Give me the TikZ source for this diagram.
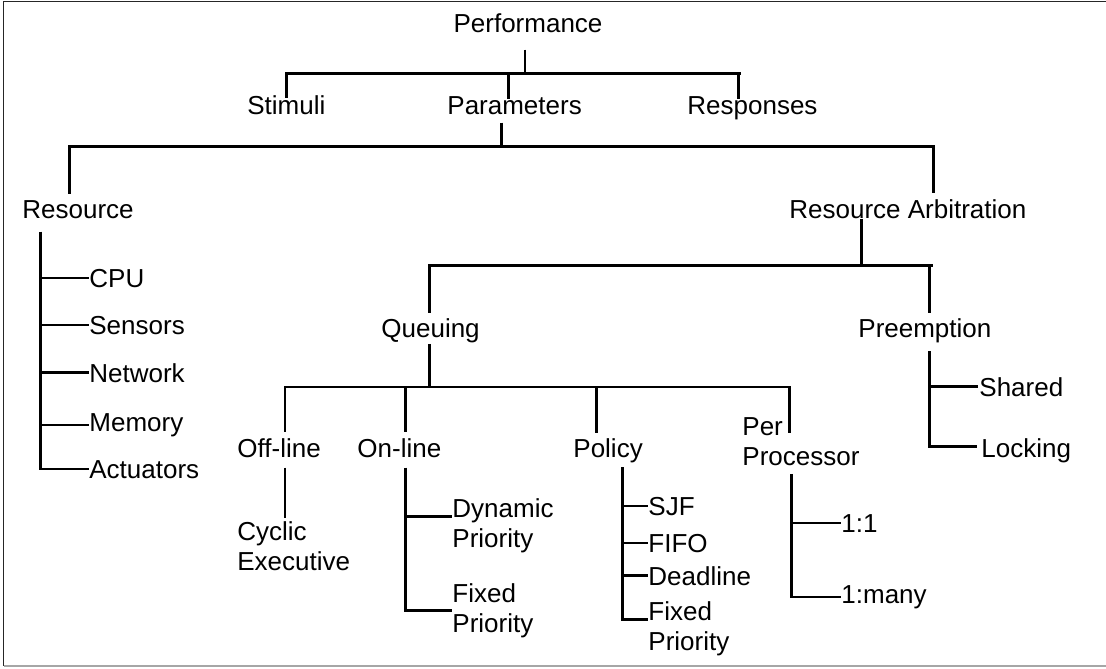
\documentclass[tikz,border=0pt]{standalone}
\usepackage{fontspec}
\setmainfont{Liberation Sans}
\begin{document}
\begin{tikzpicture}[
    x=0.5pt, y=-0.5pt,
    lbl/.style={inner sep=0pt, anchor=base west, font=\fontsize{13pt}{15pt}\selectfont},
    twoline/.style={lbl, anchor=north west, align=left},
    tree/.style={line width=1.25pt},
    frame/.style={line width=0.8pt, black!85}
  ]
    \useasboundingbox (0,0) rectangle (1106,668);
    \draw[frame] (1106,1.5) -- (3.5,1.5) -- (3.5,666);
    \draw[frame, black!35] (3.5,666) -- (1106,666);

    \node[lbl, anchor=base] (perf) at (528,33) {Performance};
    \node[lbl] (stim)  at (247,115) {Stimuli};
    \node[lbl] (param) at (447,115) {Parameters};
    \node[lbl] (resp)  at (687,115) {Responses};
    \node[lbl] (res)   at (22,218)  {Resource};
    \node[lbl] (arb)   at (789,218) {Resource Arbitration};

    \draw[tree] ([shift={(-3,16)}]perf.south) -- ++(0,24) coordinate (perfbus);
    \draw[tree] ([shift={(0,2)}]stim.north) |- (perfbus) -- ++(216,0);
    \draw[tree] ([shift={(-6,2)}]param.north) -- ++(0,-25);
    \draw[tree] ([shift={(-14,2)}]resp.north) -- ++(0,-25);
    \draw[tree] ([shift={(-13,7)}]param.south) -- ++(0,24) coordinate (parbus);
    \draw[tree] ([shift={(-8.6,-6)}]res.north) |- (parbus) -| ([shift={(25.5,-6)}]arb.north);

    % Resource
    \node[lbl] (cpu)  at (89,287) {CPU};
    \node[lbl] (sens) at (89,334) {Sensors};
    \node[lbl] (net)  at (89,382) {Network};
    \node[lbl] (mem)  at (89,431) {Memory};
    \node[lbl] (act)  at (89,478) {Actuators};
    \coordinate (resL) at ([shift={(-37.6,13)}]res.south);
    \draw[tree] (resL) |- (act.west);
    \foreach \n in {cpu,sens,net,mem}
      \draw[tree] (resL |- \n.west) -- (\n.west);

    % Resource Arbitration
    \node[lbl] (queue)   at (381,337) {Queuing};
    \node[lbl] (preempt) at (858,337) {Preemption};
    \draw[tree] ([shift={(-46.5,0)}]arb.south) -- ++(0,47) coordinate (arbbus);
    \draw[tree] ([shift={(-1,-5)}]queue.north) |- (arbbus) -- ++(72,0);
    \draw[tree] ([shift={(4.5,-5)}]preempt.north) -- ++(0,-48);

    % Queuing
    \node[lbl] (offl)   at (237,457) {Off-line};
    \node[lbl] (onl)    at (357,457) {On-line};
    \node[lbl] (policy) at (573,457) {Policy};
    \node[twoline] (pp) at (742,417) {Per\\Processor};
    \draw[tree] ([shift={(-1,1)}]queue.south) -- ++(0,43) coordinate (qbus);
    \draw[tree] ([shift={(6,-6)}]offl.north) |- (qbus) -| ([shift={(-11.5,16)}]pp.north);
    \draw[tree] ([shift={(6,-6)}]onl.north) -- ++(0,-46);
    \draw[tree] ([shift={(-11.7,-5)}]policy.north) -- ++(0,-47);

    % Preemption
    \node[lbl] (shared) at (979,396) {Shared};
    \node[lbl] (lock)   at (981,457) {Locking};
    \coordinate (preL) at ([shift={(4.5,8.5)}]preempt.south);
    \draw[tree] (preL) |- ([shift={(-4,-4)}]lock.west);
    \draw[tree] (preL |- shared.west) -- ([xshift=-0.5pt]shared.west);

    % Off-line
    \node[twoline] (cyclic) at (237,521) {Cyclic\\Executive};
    \draw[tree] ([shift={(6,10)}]offl.south) -- ++(0,50);

    % On-line
    \node[twoline] (dynp) at (452,498) {Dynamic\\Priority};
    \node[twoline] (fixp) at (452,583) {Fixed\\Priority};
    \coordinate (onL) at ([shift={(6,10)}]onl.south);
    \draw[tree] (onL) |- (fixp.west);
    \draw[tree] (onL |- dynp.west) ++(0,-9) -- ++(47,0);

    % Policy
    \node[lbl] (sjf)  at (648,515) {SJF};
    \node[lbl] (fifo) at (648,552) {FIFO};
    \node[lbl] (dead) at (648,585) {Deadline};
    \node[twoline] (fixq) at (648,601) {Fixed\\Priority};
    \coordinate (polL) at ([shift={(14.3,4.5)}]policy.south);
    \draw[tree] (polL) |- ([shift={(0,-9)}]fixq.west);
    \foreach \n in {sjf,fifo,dead}
      \draw[tree] (polL |- \n.west) -- (\n.west);

    % Per Processor
    \node[lbl] (one)  at (841,532) {1:1};
    \node[lbl] (many) at (841,603) {1:many};
    \coordinate (ppL) at ([shift={(-9.5,8)}]pp.south);
    \draw[tree] (ppL) |- (many.west);
    \draw[tree] (ppL |- one.west) -- (one.west);
\end{tikzpicture}
\end{document}
